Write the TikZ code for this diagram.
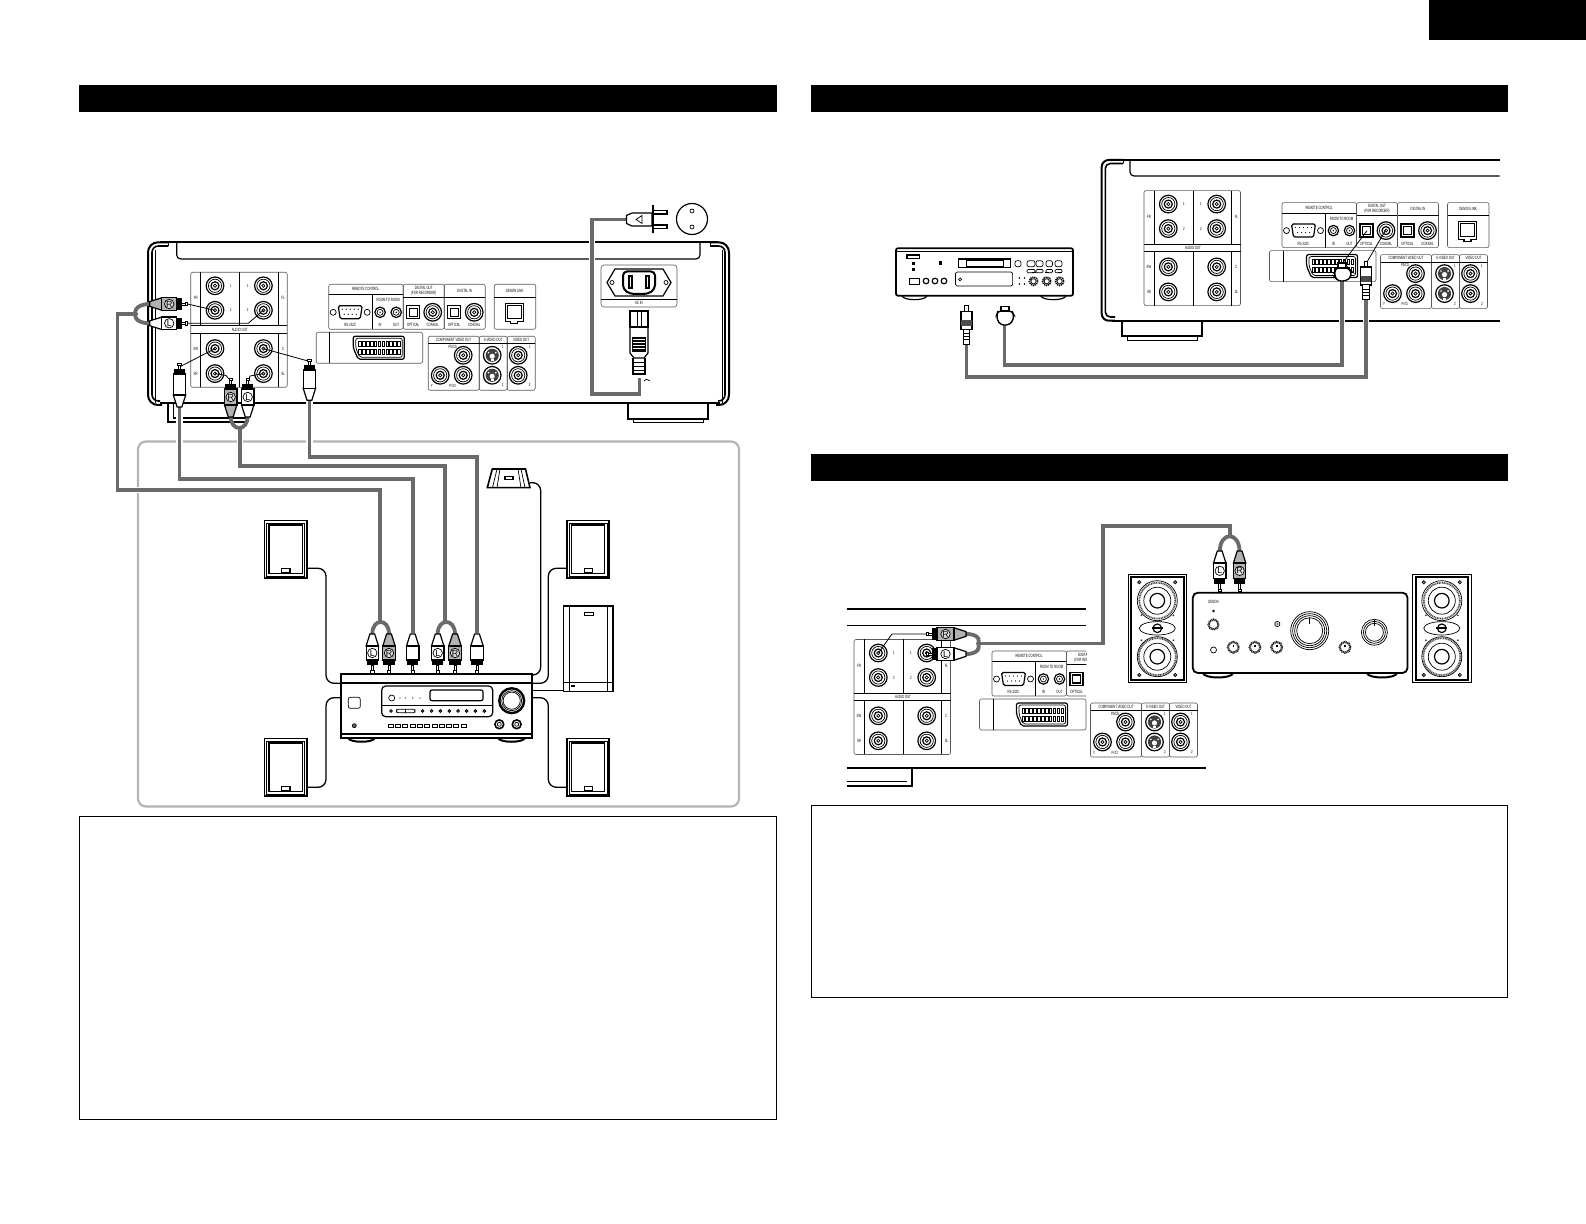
\documentclass[tikz,border=0pt]{standalone}
\usepackage{fontspec}
\setmainfont{Liberation Sans}[FakeStretch=0.62]
\newfontfamily\pf{Liberation Sans}
\definecolor{cablegray}{HTML}{6A6A6A}
\definecolor{boxgray}{HTML}{B4B4B4}
\newcount\lblc
\tikzset{
 thinl/.style={line width=.35pt,draw=black},
 midl/.style={line width=.6pt,draw=black},
 thickl/.style={line width=1pt,draw=black},
 panell/.style={line width=.3pt,draw=black!65},
 spkwire/.style={line width=.65pt,draw=black,rounded corners=4pt},
 wire/.style={line width=.4pt,draw=black,line join=round},
 cable/.style={line width=1.9pt,draw=cablegray,line join=miter,preaction={draw=white,line width=3.4pt}},
 tiny/.style={font=\fontsize{2.3}{2.5}\selectfont,inner sep=0pt,text=black},
 bar/.style={fill=black,draw=none},
 txtbox/.style={line width=.45pt,draw=black},
}
\newcommand{\lbl}[3]{\global\advance\lblc by 1 \node[tiny,align=center] (t\the\lblc) at (#1,#2) {#3};}
\newcommand{\jk}[2]{\draw[midl] (#1,#2) circle (8.8);\draw[thinl] (#1,#2) circle (6.6);\draw[midl] (#1,#2) circle (4);\draw[thinl] (#1,#2) circle (1.6);}
\newcommand{\jksmall}[2]{\draw[midl] (#1,#2) circle (5.2);\draw[thinl] (#1,#2) circle (3);\fill (#1,#2) circle (.8);}
\newcommand{\svj}[2]{\draw[midl] (#1,#2) circle (8.8);\fill[black!75] (#1,#2) circle (6.6);\fill[white] (#1,#2+1) circle (2.6);\fill[white] (#1-1.5,#2+4) rectangle (#1+1.5,#2+6);\fill[white] (#1-3.6,#2-2.6) circle (.9);\fill[white] (#1+3.6,#2-2.6) circle (.9);}
\newcommand{\optj}[2]{\draw[midl] (#1-6.5,#2-6.5) rectangle (#1+6.5,#2+6.5);\draw[midl] (#1-4,#2-4) rectangle (#1+4,#2+4);}
\newcommand{\pnl}[4]{\draw[panell,rounded corners=1pt] (#1,#2) rectangle (#3,#4);}
\newcommand{\audiopanel}{%
 \pnl{0}{0}{96.5}{115}
 \draw[thinl] (49,0)--(49,53.5) (49,61)--(49,115) (10,0)--(10,53.5) (87.5,0)--(87.5,53.5) (10,61)--(10,115) (87.5,61)--(87.5,115);
 \draw[thinl] (0,53.5)--(96.5,53.5) (0,61)--(96.5,61);
 \lbl{49}{57.3}{AUDIO OUT}
 \jk{24.3}{13.5}\jk{24.3}{38}\jk{72.7}{13.5}\jk{72.7}{38}\jk{24.3}{76.3}\jk{24.3}{101.3}\jk{72.7}{76.3}\jk{72.7}{101.3}
 \lbl{40}{13.5}{1}\lbl{40}{38}{2}\lbl{57}{13.5}{1}\lbl{57}{38}{2}
 \lbl{5}{26}{FR}\lbl{92.5}{26}{FL}\lbl{5}{76.3}{SW}\lbl{5}{101.3}{SR}\lbl{92.5}{76.3}{C}\lbl{92.5}{101.3}{SL}
}
\newcommand{\ctlpanels}[2]{%
 \pnl{138}{12}{212.5}{57}
 \draw[thinl] (138,22.3)--(212.5,22.3) (181.5,22.3)--(181.5,57);
 \lbl{175}{17}{REMOTE CONTROL}
 \draw[midl,rounded corners=.8pt] (147.5,33.5)--(171.5,33.5)--(169.5,46.5)--(149.5,46.5)--cycle;
 \foreach \i in {0,...,4}{\fill (151.5+\i*4,37) circle (.6);}
 \foreach \i in {0,...,3}{\fill (153.5+\i*4,42) circle (.6);}
 \draw[thinl] (142.5,40) circle (3);\draw[thinl] (176.5,40) circle (3);
 \lbl{159.5}{53}{RS-232C}
 \lbl{197.5}{28}{ROOM TO ROOM}
 \jksmall{189.4}{40}\jksmall{205.5}{40}
 \lbl{189.4}{53}{IN}\lbl{205.5}{53}{OUT}
 \ifx#1Y%
 \pnl{212.5}{12}{253.5}{57}
 \draw[thinl] (212.5,25)--(253.5,25);
 \global\advance\lblc by 1
 \node[tiny,align=center] (t\the\lblc) at (233,18.5) {DIGITAL OUT\\(FOR RECORDER)};
 \optj{222.5}{40}\jk{242}{40}
 \lbl{222.5}{53}{OPTICAL}\lbl{242}{53}{COAXIAL}
 \fi
 \ifx#2Y%
 \pnl{253.5}{12}{294.5}{57}
 \draw[thinl] (253.5,25)--(294.5,25);
 \lbl{274}{18.5}{DIGITAL IN}
 \optj{263.5}{40}\jk{283.5}{40}
 \lbl{263.5}{53}{OPTICAL}\lbl{283.5}{53}{COAXIAL}
 \pnl{303.5}{12}{345}{57}
 \draw[thinl] (303.5,25)--(345,25);
 \lbl{324}{18.5}{DENON LINK}
 \draw[midl] (314.5,31)--(332.5,31)--(332.5,49)--(327,49)--(327,51)--(320,51)--(320,49)--(314.5,49)--cycle;
 \draw[thinl] (316.5,33) rectangle (330.5,46);
 \fi
 \pnl{125.5}{60}{232}{91}
 \draw[thinl] (139,60)--(139,91);
 \draw[midl,rounded corners=1pt] (162.5,64)--(213.5,64)--(213.5,87)--(167.5,87)--(162.5,75.5)--cycle;
 \draw[thinl,rounded corners=1pt] (165,66)--(211.5,66)--(211.5,85)--(169,85)--(165,75.5)--cycle;
 \foreach \i in {0,...,10}{\filldraw[fill=white,line width=.45pt] (168+\i*3.9,69) rectangle ++(2.6,5);\filldraw[fill=white,line width=.45pt] (168+\i*3.9,77) rectangle ++(2.6,5);}
}
\newcommand{\vidpanels}{%
 \pnl{237.5}{64}{288.5}{118}\pnl{288.5}{64}{316.5}{118}\pnl{316.5}{64}{344.5}{118}
 \draw[thinl] (237.5,71.5)--(344.5,71.5);
 \lbl{263}{67.8}{COMPONENT VIDEO OUT}\lbl{302.5}{67.8}{S-VIDEO OUT}\lbl{330.5}{67.8}{VIDEO OUT}
 \jk{272.5}{83}\jk{249.5}{103}\jk{272.5}{103}
 \svj{301.5}{83}\svj{301.5}{103}\jk{327.5}{83}\jk{327.5}{103}
 \lbl{262}{74.5}{Pb/Cb}\lbl{262}{113.5}{Pr/Cr}\lbl{241}{113.5}{Y}
 \lbl{312}{75}{1}\lbl{312}{113}{2}\lbl{339}{75}{1}\lbl{339}{113}{2}
}
\newcommand{\plabel}[2]{\global\advance\lblc by 1 \node[draw=black,circle,line width=.35pt,fill=#2,inner sep=0pt,minimum size=4.7pt,font=\pf\fontsize{4.4}{4.4}\selectfont] (t\the\lblc) at (0,\pmid) {#1};}
\def\pl{6}
\newcommand{\rca}[6]{%
 \begin{scope}[shift={(#1,#2)},rotate=#3]
 \pgfmathsetmacro{\bs}{\pl+5}
 \pgfmathsetmacro{\be}{\bs+#6}
 \pgfmathsetmacro{\te}{\be+12}
 \pgfmathsetmacro{\pmid}{(\bs+\be)/2}
 \filldraw[fill=white,line width=.35pt] (-1.1,1)--(1.1,1)--(1.1,\pl)--(-1.1,\pl)--cycle;
 \filldraw[fill=white,line width=.35pt] (-1.7,0)--(1.7,0)--(1.7,2.5)--(-1.7,2.5)--cycle;
 \fill (-5.6,\pl) rectangle (5.6,\bs);
 \filldraw[fill=#4,line width=.6pt] (-6.2,\be)--(-2.4,\te)--(2.4,\te)--(6.2,\be)--cycle;
 \filldraw[fill=#4,line width=.6pt] (-6.2,\bs) rectangle (6.2,\be);
 #5
 \end{scope}}
\newcommand{\bigspk}[2]{%
 \begin{scope}[shift={(#1,#2)}]
 \draw[midl] (0,0) rectangle (58.4,108.4);
 \draw[line width=1.1pt] (3,3) rectangle (55.4,105.4);
 \draw[line width=.9pt,draw=black!70,dash pattern=on .5pt off .35pt] (29,26.4) circle (18);
 \draw[thinl] (29,26.4) circle (20);
 \draw[thinl] (29,26.4) circle (13.5);
 \draw[midl] (29,26.4) circle (7.3);
 \draw[line width=.9pt,draw=black!70,dash pattern=on .5pt off .35pt] (29,82.4) circle (18.5);
 \draw[thinl] (29,82.4) circle (20);
 \draw[thinl] (29,82.4) circle (13.5);
 \draw[midl] (29,82.4) circle (7.3);
 \draw[thinl] (29,54) ellipse (18 and 6.7);
 \fill (23.5,53) rectangle (34.5,55);\draw[midl] (29,54) circle (4.3);
 \foreach \p/\q in {11/8,47/8,11/100.7,47/100.7}{\filldraw[fill=gray,line width=.3pt] (\p,\q) circle (1.7);}
 \foreach \p/\q in {13/41,45/41,13/66,45/66}{\fill[black!80] (\p,\q) circle (1);}
 \end{scope}}
\newcommand{\spk}[2]{%
 \begin{scope}[shift={(#1,#2)}]
 \draw[line width=.8pt] (0,0) rectangle (42.4,57.6);
 \draw[thinl] (2.2,2.2) rectangle (40.2,55.4);
 \draw[midl] (4.6,4.4) rectangle (37.8,53.2);
 \draw[midl] (17.4,47.5) rectangle (25.6,51.9);
 \end{scope}}
\newcommand{\tknob}[3]{\draw[line width=1.1pt,draw=black!85,dash pattern=on .5pt off .3pt] (#1,#2) circle (#3);\draw[line width=.8pt] (#1,#2)--(#1,#2-2);}
\begin{document}
\begin{tikzpicture}[x=.5pt,y=-.5pt,line cap=butt]
\useasboundingbox (0,0) rectangle (1586,1224);
% ---- black bars and boxes
\fill[bar] (1429,0) rectangle (1586,40.5);
\fill[bar] (79,85) rectangle (777,112.5);
\fill[bar] (811,85) rectangle (1508,112.5);
\fill[bar] (811,454) rectangle (1508,481.5);
\draw[txtbox] (79.3,816.3) rectangle (776.8,1119.5);
\draw[txtbox] (811.3,805.5) rectangle (1507.8,997);
% ---- gray enclosure
\draw[line width=1.1pt,draw=boxgray,rounded corners=4pt] (138,441.5) rectangle (739,806.5);
% ---- MAIN UNIT
\draw[thickl,rounded corners=5pt] (168.3,242.3)--(148,242.3)--(148,405)--(162,405);
\draw[line width=.8pt,rounded corners=3.2pt] (168.3,246)--(152,246)--(152,401)--(160,401);
\draw[thinl] (155,250)--(155,403.5);
\draw[thinl] (168.3,242.3)--(168.3,246);
\draw[thickl,rounded corners=5pt] (710,242.3)--(729,242.3)--(729,405)--(716,405);
\draw[line width=.8pt,rounded corners=3.2pt] (710,246)--(725,246)--(725,401)--(718,401);
\draw[thinl] (722,250)--(722,403.5);
\draw[thinl] (710,242.3)--(710,246);
\draw[thickl] (160,242.3)--(718,242.3);
\draw[thickl] (160,403.5)--(720,403.5);
\draw[midl,rounded corners=2pt] (176.7,242.3)--(176.7,259)--(700,259)--(700,242.3);
\draw[thickl] (168.3,403)--(168.3,421.7)--(248,421.7);
\draw[midl] (173.3,403)--(173.3,418)--(248,418);
\draw[thickl] (628,403)--(628,419)--(708,419)--(708,403);
\draw[thinl] (633,419)--(633,422)--(703,422)--(703,419);
\begin{scope}[shift={(190.7,272.3)}]
 \audiopanel\ctlpanels{Y}{Y}\vidpanels
\end{scope}
% AC inlet
\draw[panell,rounded corners=1.5pt] (601,265) rectangle (677,307);
\draw[thinl] (601,299)--(677,299);
\lbl{639}{303.2}{AC IN}
\draw[midl] (615,269)--(663,269)--(671,282.5)--(663,296)--(615,296)--(607,282.5)--cycle;
\draw[thickl,rounded corners=2pt] (623,271.5)--(655,271.5)--(655,289)--(648,294)--(630,294)--(623,289)--cycle;
\draw[midl] (629,276) rectangle (632,288);
\draw[midl] (646,276) rectangle (649,288);
\draw[thinl] (612,282.5) circle (2);\draw[thinl] (666,282.5) circle (2);
% IEC plug
\draw[midl] (630,311) rectangle (648,327);
\draw[thinl] (637,311)--(637,327)(641,311)--(641,327);
\draw[midl] (630,327)--(630,353)--(634,358)--(644,358)--(648,353)--(648,327);
\fill (632,337) rectangle (646,352);
\foreach \i in {0,...,3}{\fill[white] (633,339+\i*3) rectangle (645,340+\i*3);}
\draw[midl] (633,358)--(633,374)--(645,374)--(645,358);
\draw[thinl] (633,362)--(645,362)(633,366)--(645,366)(633,370)--(645,370);
\draw[thinl] (644,381) .. controls (647,378) and (648,380) .. (650,381);
% power cord
\draw[cable] (626.5,219.5)--(592,219.5)--(592,394)--(639.5,394)--(639.5,378);
% mains plug
\draw[midl,fill=white] (626.5,215.5)--(632,213)--(652,213)--(652,226)--(632,226)--(626.5,223.5)--cycle;
\draw[thinl] (642,215.5) -- (636,219.5)--(642,223.5)--cycle;
\draw[thickl] (652.5,205)--(652.5,233);
\draw[midl,fill=white] (653,210.5) rectangle (667,214);
\draw[midl,fill=white] (653,225) rectangle (667,228.5);
\draw[midl] (692,219) circle (15.5);
\draw[thinl] (692,211) circle (2);\draw[thinl] (692,227) circle (2);
% main unit cables
\coordinate (fy) at (136.7,314);
\draw[cable] (fy)--(117.5,314)--(117.5,490)--(380,490)--(380,623);
\draw[cable] (179.5,405)--(179.5,479)--(413,479)--(413,633);
\draw[cable] (240,428)--(240,466)--(445,466)--(445,623);
\draw[cable] (309.4,398)--(309.4,456.7)--(477,456.7)--(477,633);
\draw[line width=1.9pt,draw=cablegray] (150,304) .. controls (134,304) and (134,314) .. (136,314) .. controls (134,314) and (134,323.3) .. (150,323.3);
\draw[line width=1.9pt,draw=cablegray] (230.7,416) .. controls (230.7,432) and (247.7,432) .. (247.7,416);
% wires to jacks
\draw[wire] (215,310.3)--(187.5,304);
\draw[wire] (263.4,310.3)--(248.3,323.3)--(187.5,323.3);
\draw[wire] (215,348.6)--(180,366.7)--(179.5,369);
\draw[wire] (263.4,348.6)--(308,361)--(309.4,365);
\draw[wire] (215,373.6)--(226,375.5)--(230.7,381);
\draw[wire] (263.4,373.6)--(250,376)--(247.7,382);
% main unit plugs
\rca{187.7}{304}{-90}{gray!60}{\plabel{R}{gray!25}}{15}
\rca{187.7}{323.3}{-90}{white}{\plabel{L}{white}}{15}
\rca{230.7}{378}{0}{gray!60}{\plabel{R}{gray!25}}{16}
\rca{247.7}{378}{0}{white}{\plabel{L}{white}}{16}
\rca{179.5}{363}{0}{white}{}{21}
\rca{309.4}{359}{0}{white}{}{18.3}
% ---- receiver
\draw[line width=1.9pt,draw=cablegray] (372.3,634) .. controls (372.3,618) and (389,618) .. (389,634);
\draw[line width=1.9pt,draw=cablegray] (437.7,634) .. controls (437.7,618) and (455,618) .. (455,634);
% speaker wires
\draw[spkwire] (306.7,568.3)--(326,568.3)--(326,683.3)--(340.7,683.3);
\draw[spkwire] (306.7,787.3)--(326,787.3)--(326,697.7)--(340.7,697.7);
\draw[spkwire] (530,482.7)--(540.7,482.7)--(540.7,675)--(531.7,675);
\draw[spkwire] (566.7,568.3)--(548.3,568.3)--(548.3,683.3)--(531.7,683.3);
\draw[spkwire] (531.7,690.7)--(563.3,690.7);
\draw[spkwire] (531.7,697.7)--(548.3,697.7)--(548.3,787.3)--(566.7,787.3);
\spk{264.3}{520.7}\spk{566.7}{520.7}\spk{264.3}{738.7}\spk{566.7}{738.7}
% centre speaker
\draw[line width=.8pt,fill=white] (492.3,469)--(525.5,469)--(530,487.7)--(487.3,487.7)--cycle;
\draw[thinl] (497,469)--(492.5,487.7)(500,469)--(497,487.7)(521,469)--(525,487.7)(518,469)--(521,487.7);
\draw[midl] (505,476.5) rectangle (513,479.5);
% subwoofer
\draw[midl] (563.3,606) rectangle (613,691.7);
\draw[line width=.9pt] (613,606)--(613,691.7);
\draw[midl] (569.3,606)--(569.3,691.7);
\draw[thinl] (607.5,606)--(607.5,691.7);
\draw[thinl] (563.3,682.7)--(613,682.7);
\draw[midl] (584.5,612.5) rectangle (593.5,615.5);
\fill (571,685.5) rectangle (574.5,687.5);
% receiver body
\draw[thickl,fill=white] (348,738)  .. controls (350,743) and (373,743) .. (375,738);
\draw[thickl,fill=white] (498,738)  .. controls (500,743) and (523,743) .. (525,738);
\draw[line width=.8pt] (340.7,674) rectangle (531.7,738);
\draw[midl] (340.7,683)--(531.7,683);
\draw[midl] (340.7,734)--(531.7,734);
\draw[midl,rounded corners=2pt] (381.7,686) rectangle (492.7,716.7);
\draw[thinl] (381.7,705)--(492.7,705);
\draw[midl,rounded corners=1pt] (430,690) rectangle (483,700.7);
\draw[thinl] (391.7,698) circle (3);
\foreach \x in {400,405.7,412.7,420}{\fill (\x,698) circle (.7);}
\foreach \x in {391,422.5,431.5,440.3,449.3,458,466.7,475.3,484.3}{\filldraw[thinl,fill=black!70] (\x,711) circle (1.5);}
\draw[thinl,rounded corners=1pt] (396.5,709.2) rectangle (415,712.8);
\draw[thinl] (405.7,709)--(405.7,713);
\draw[line width=1.2pt] (511.7,700.7) circle (12.4);
\draw[thinl] (511.7,700.7) circle (10);\draw[thinl] (511.7,700.7) circle (8.6);
\draw[thinl,rounded corners=1pt] (348.3,697.3) rectangle (360.3,708.3);
\filldraw[thinl,fill=black!60] (354.3,725.7) circle (2);
\foreach \x in {499.3,516.7}{\draw[line width=.8pt] (\x,724.3) circle (4.4);\draw[thinl] (\x,724.3) circle (2);}
\foreach \i in {0,...,10}{\draw[thinl] (388.3+\i*7.27,724) rectangle ++(5,3);}
% receiver plugs
\def\pl{8}
\rca{372.3}{673}{180}{white}{\plabel{L}{white}}{14}
\rca{389}{673}{180}{gray!60}{\plabel{R}{gray!25}}{14}
\rca{412.7}{673}{180}{white}{}{14}
\rca{437.7}{673}{180}{white}{\plabel{L}{white}}{14}
\rca{455}{673}{180}{gray!60}{\plabel{R}{gray!25}}{14}
\rca{477}{673}{180}{white}{}{14}
% ---- UNIT 2
\draw[thickl,rounded corners=3.5pt] (1123.3,160)--(1101.7,160)--(1101.7,320.7)--(1115,320.7);
\draw[line width=.8pt,rounded corners=2.5pt] (1123.3,163.5)--(1105.3,163.5)--(1105.3,317)--(1115,317);
\draw[thinl] (1123.3,160)--(1123.3,163.5);
\draw[thickl] (1115,160)--(1499.5,160);
\draw[midl,rounded corners=2pt] (1130,160)--(1130,176)--(1499.5,176);
\draw[thickl] (1112,320.7)--(1499.5,320.7);
\draw[thickl] (1122,320.7)--(1122,336)--(1202,336)--(1202,320.7);
\draw[thinl] (1127,336)--(1127,340)--(1197,340)--(1197,336);
\begin{scope}[shift={(1144,190.6)}]
 \audiopanel\ctlpanels{Y}{Y}
 \begin{scope}[shift={(-1,0)}]\vidpanels\end{scope}
\end{scope}
% CD recorder
\draw[line width=.9pt,rounded corners=1pt] (896,248.3) rectangle (1073,295.7);
\draw[thinl] (896,251.7)--(1073,251.7);
\draw[midl] (902,295.7) .. controls (903,301) and (926,301) .. (927,295.7);
\draw[midl] (1040.7,295.7) .. controls (1042,301) and (1065,301) .. (1066,295.7);
\fill (906,254.5) rectangle (920,259.5);\fill[white] (908,255.7) rectangle (918.5,258.3);
\fill (911.5,262.5) rectangle (915,265.5);\fill (911.5,268) rectangle (915,270.8);\fill (938.5,261.5) rectangle (942,265);
\draw[midl] (958.5,259) rectangle (1010.5,267.3);
\draw[thinl] (966,260.5) rectangle (1003,266);
\fill (982,266) rectangle (992,267.3);
\draw[thinl,rounded corners=1pt] (1015,260.7) rectangle (1021,266.7);
\foreach \x/\w in {1027/8,1036/7,1046/6.5,1055/7}{\draw[thinl,rounded corners=1pt] (\x,260.7) rectangle ++(\w,6);\draw[thinl,rounded corners=.5pt] (\x,269.5) rectangle ++(\w,3.2);}
\draw[thinl] (909,278) rectangle (919,284);
\foreach \x in {926,935,944}{\draw[midl] (\x,281) circle (2.8);}
\draw[thinl,rounded corners=1pt] (955.5,272) rectangle (1012.6,286);
\draw[thinl] (960,279.5) circle (1.5);
\foreach \x/\y in {1019.5/278,1024.5/278,1019.5/284,1024.5/284}{\fill (\x,\y) circle (.8);}
\foreach \x in {1033.5,1046.7,1059.6}{\draw[line width=.8pt,dash pattern=on .6pt off .4pt] (\x,281.3) circle (4.2);\draw[thinl] (\x,281.3) circle (2.6);\fill (\x-2,272) rectangle (\x+2,273);}
% unit 2 cables
\draw[wire] (1367,230.6)--(1342,264);
\draw[wire] (1385.4,230.6)--(1367,262);
\draw[cable] (1342,280)--(1342,365)--(1004.5,365)--(1004.5,324);
\draw[cable] (1366,298)--(1366,376.7)--(966.4,376.7)--(966.4,343);
% optical plug (panel)
\filldraw[fill=white,line width=.7pt,rounded corners=1.5pt] (1336,268)--(1348,268)--(1351,271)--(1351,277)--(1346,281)--(1338,281)--(1334.8,277)--(1334.8,271)--cycle;
\filldraw[fill=white,line width=.6pt] (1338,263) rectangle (1346,268);
% optical plug (free)
\filldraw[fill=white,line width=.7pt,rounded corners=1.5pt] (998,311)--(1012,311)--(1013.4,314)--(1013.4,320)--(1009,325)--(1001,325)--(997,320)--(997,314)--cycle;
\filldraw[fill=white,line width=.6pt] (1001,306.5) rectangle (1009,311);
% coax plugs
\foreach \cx/\cy in {1366/261,966.4/305.5}{
 \begin{scope}[shift={(\cx,\cy)}]
 \filldraw[fill=white,line width=.4pt] (-1.6,0) rectangle (1.6,6);
 \filldraw[fill=white,line width=.7pt] (-5.4,6) rectangle (5.4,24);
 \fill[black!70] (-5.4,15) rectangle (5.4,21);
 \filldraw[fill=white,line width=.5pt] (-3.2,24) rectangle (3.2,39);
 \draw[thinl] (-3.2,28)--(3.2,28)(-3.2,31)--(3.2,31)(-3.2,34)--(3.2,34);
 \end{scope}}
% ---- UNIT 3
\draw[midl] (846.6,609)--(1086,609);
\draw[midl] (846.6,625.7)--(1086,625.7);
\draw[line width=1pt] (846.6,768.3)--(1205.6,768.3);
\draw[line width=1pt] (911.7,768.3)--(911.7,786)--(846.6,786);
\draw[thinl] (846.6,781)--(907,781);
\begin{scope}[shift={(854,639.5)}]\audiopanel\end{scope}
\begin{scope}
 \clip (960,630) rectangle (1086.3,760);
 \begin{scope}[shift={(854,639)}]\ctlpanels{Y}{N}\end{scope}
\end{scope}
\begin{scope}[shift={(853,639)}]\vidpanels\end{scope}
% unit 3 cable
\draw[cable] (978.4,643.5)--(1102.8,643.5)--(1102.8,526)--(1230,526)--(1230,537);
\draw[line width=1.9pt,draw=cablegray] (966,634) .. controls (982,634) and (979,643.5) .. (978,643.5) .. controls (979,643.5) and (982,654) .. (966,654);
\draw[line width=1.9pt,draw=cablegray] (1219.7,552) .. controls (1219.7,531) and (1239.6,531) .. (1239.6,552);
\draw[wire] (878.5,653)--(892,634)--(926,634);
\def\pl{6}
\rca{926}{634}{90}{gray!60}{\plabel{R}{gray!25}}{17}
\rca{926}{654}{90}{white}{\plabel{L}{white}}{17}
\def\pl{8}
\rca{1219.7}{591.7}{180}{white}{\plabel{L}{white}}{15.7}
\rca{1239.6}{591.7}{180}{gray!60}{\plabel{R}{gray!25}}{15.7}
% amplifier
\draw[thickl] (1203,673) .. controls (1204,679) and (1232,679) .. (1233,673);
\draw[thickl] (1367,673) .. controls (1368,679) and (1396,679) .. (1397,673);
\draw[line width=.9pt,rounded corners=2.5pt] (1192.8,592.7) rectangle (1407.5,673);
\lbl{1213.5}{602.3}{DENON}
\fill (1213.5,611) circle (1.3);
\draw[line width=1.1pt,draw=black!85,dash pattern=on .5pt off .3pt] (1213.5,624.5) circle (5);
\draw[thinl] (1213.5,650) circle (3);
\tknob{1233.3}{647.3}{5.4}\tknob{1255}{647.3}{5.4}\tknob{1276.7}{647.3}{5.4}\tknob{1345}{647.3}{5.4}
\draw[thinl] (1277.3,624) circle (2.6);\fill[gray] (1277.3,624) circle (1.4);
\foreach \r in {13,15,17,19}{\draw[thinl] (1309.7,630.7) circle (\r);}
\draw[thinl] (1309.7,618)--(1309.7,624);
\foreach \r in {9,11,13}{\draw[thinl] (1374.4,632.3) circle (\r);}
\draw[thinl] (1374.4,620)--(1374.4,626);
\bigspk{1128.3}{574.3}\bigspk{1412.8}{574.3}
\end{tikzpicture}
\end{document}
